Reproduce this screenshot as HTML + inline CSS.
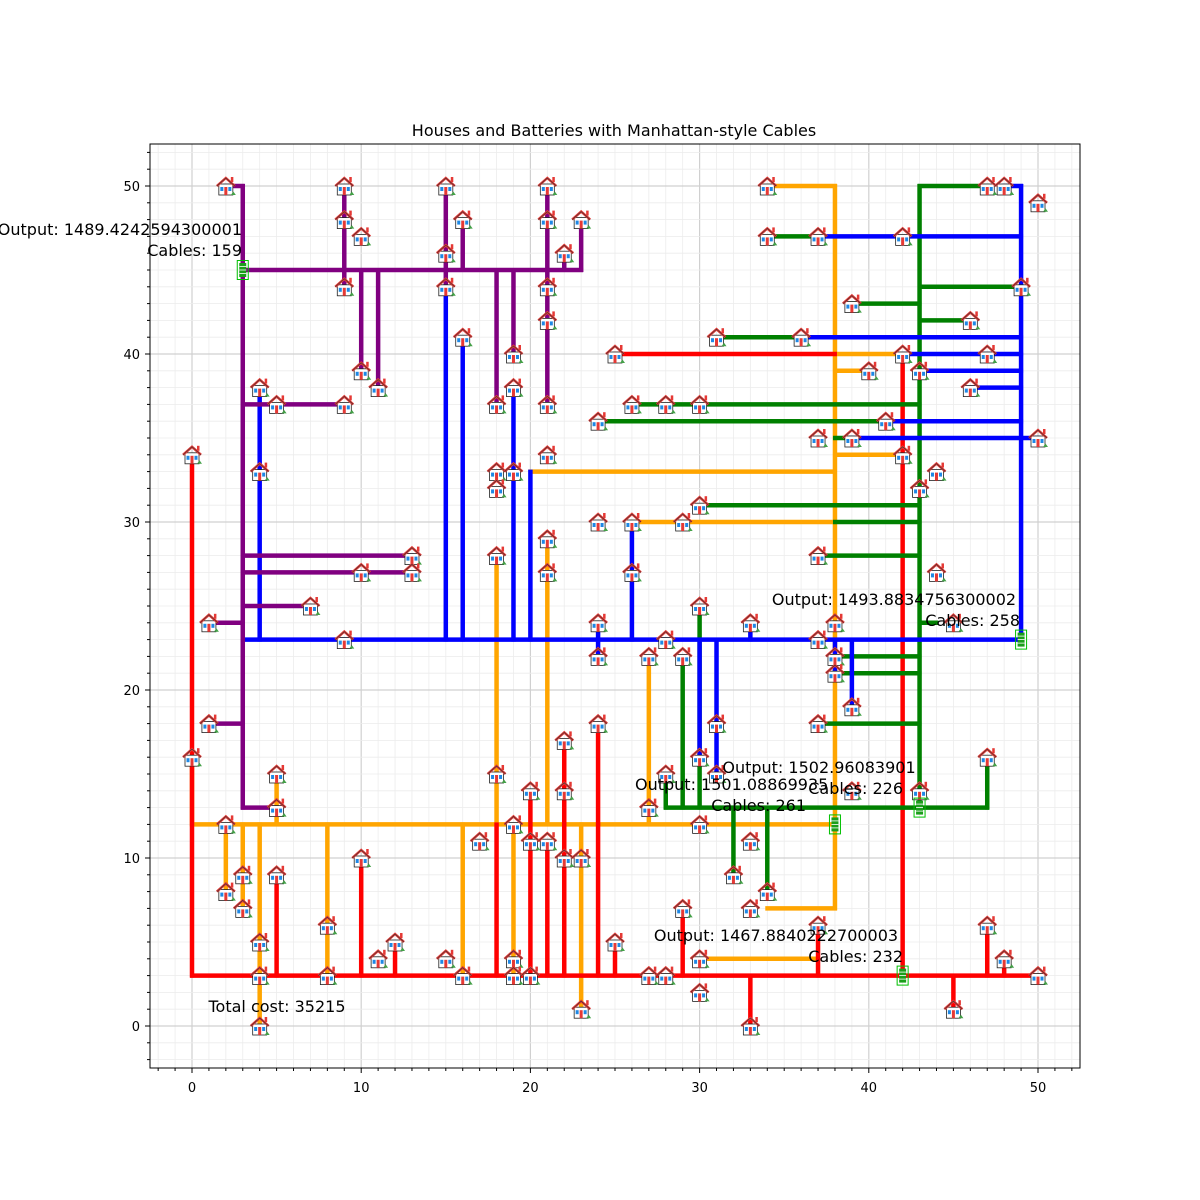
<!DOCTYPE html>
<html><head><meta charset="utf-8"><style>
html,body{margin:0;padding:0;background:#fff;}
svg{display:block;font-family:"DejaVu Sans","Liberation Sans",sans-serif;}
</style></head><body>
<svg id="s" width="1200" height="1200" xmlns="http://www.w3.org/2000/svg">
<rect width="1200" height="1200" fill="#fff"/>
<g id="grid"></g>
<g id="cables" stroke-linecap="butt" fill="none"></g>
<g id="icons"></g>
<rect x="150" y="144" width="930" height="924" fill="none" stroke="#000" stroke-width="1"/>
<g id="ticks" font-size="13" fill="#000"></g>
<text x="614" y="136" font-size="16" text-anchor="middle">Houses and Batteries with Manhattan-style Cables</text>
<g font-size="16" fill="#000">
<text x="242" y="235" text-anchor="end">Output: 1489.4242594300001</text>
<text x="242" y="256" text-anchor="end">Cables: 159</text>
<text x="894" y="605" text-anchor="middle">Output: 1493.8834756300002</text>
<text x="1020" y="626" text-anchor="end">Cables: 258</text>
<text x="635" y="790">Output: 1501.08869935</text>
<text x="806" y="811" text-anchor="end">Cables: 261</text>
<text x="819" y="773" text-anchor="middle">Output: 1502.96083901</text>
<text x="903" y="794" text-anchor="end">Cables: 226</text>
<text x="776" y="941" text-anchor="middle">Output: 1467.8840222700003</text>
<text x="903" y="962" text-anchor="end">Cables: 232</text>
<text x="277" y="1012" text-anchor="middle">Total cost: 35215</text>
</g>
</svg>
<script>
const NS="http://www.w3.org/2000/svg";
const X=x=>192+16.92*x, Y=y=>1026-16.8*y;
function el(p,t,a){const e=document.createElementNS(NS,t);for(const k in a)e.setAttribute(k,a[k]);p.appendChild(e);return e;}
const g=document.getElementById('grid'),tk=document.getElementById('ticks');
for(let i=-2;i<=52;i++){const x=X(i);if(x<150||x>1080)continue;const maj=i%10==0;
el(g,'line',{x1:x,y1:144,x2:x,y2:1068,stroke:maj?'#d0d0d0':'#ececec','stroke-width':maj?1.2:0.8});
el(tk,'line',{x1:x,y1:1068,x2:x,y2:1068+(maj?5:3),stroke:'#000','stroke-width':1});
if(maj)el(tk,'text',{x:x,y:1092,'text-anchor':'middle'}).textContent=i;}
for(let i=-2;i<=52;i++){const y=Y(i);if(y<144||y>1068)continue;const maj=i%10==0;
el(g,'line',{x1:150,y1:y,x2:1080,y2:y,stroke:maj?'#d0d0d0':'#ececec','stroke-width':maj?1.2:0.8});
el(tk,'line',{x1:150,y1:y,x2:150-(maj?5:3),y2:y,stroke:'#000','stroke-width':1});
if(maj)el(tk,'text',{x:140,y:y+5,'text-anchor':'end'}).textContent=i;}
const C=document.getElementById('cables');
function H(c,y,a,b){el(C,'line',{x1:X(a)-2,y1:Y(y),x2:X(b)+2,y2:Y(y),stroke:c,'stroke-width':4.5});}
function V(c,x,a,b){el(C,'line',{x1:X(x),y1:Y(a)+2,x2:X(x),y2:Y(b)-2,stroke:c,'stroke-width':4.5});}
const O='orange',R='#ff0000',B='#0000ff',G='#008000',P='purple';
V(O,38,7,50);H(O,50,34,38);H(O,12,0,38);V(O,0,12,16);
V(O,2,8,12);V(O,3,7,12);V(O,4,0,12);V(O,8,3,12);V(O,16,3,12);V(O,19,3,12);V(O,23,1,12);
V(O,5,12,15);V(O,18,12,28);V(O,21,12,29);V(O,27,12,22);
H(O,40,38,42);H(O,39,38,40);H(O,34,38,42);H(O,33,20,38);H(O,30,26,38);H(O,7,34,38);H(O,4,30,37);
H(R,3,0,50);V(R,0,3,34);V(R,42,3,40);H(R,40,25,38);
[[5,9],[10,10],[12,5],[18,12],[20,14],[22,17],[24,18],[25,5],[29,7],[37,6],[47,6],[48,4]].forEach(a=>V(R,a[0],3,a[1]));
V(R,33,0,3);V(R,45,1,3);V(R,21,3,11);
V(G,43,13,50);H(G,50,43,47);H(G,43,39,43);H(G,42,43,46);H(G,44,43,49);H(G,37,28,43);H(G,36,24,43);
H(G,35,38,39);H(G,31,30,43);H(G,30,38,43);H(G,28,37,43);H(G,24,43,44);H(G,22,38,43);H(G,21,38,43);H(G,18,37,43);
H(G,47,34,37);H(G,41,31,36);H(G,37,26,28);
H(G,13,28,47);V(G,47,13,16);V(G,29,13,22);V(G,30,13,25);V(G,28,13,15);V(G,32,9,13);V(G,34,8,13);
H(B,23,3,49);V(B,49,23,50);H(B,50,48,49);H(B,47,37,49);H(B,41,36,49);H(B,40,42,49);H(B,39,43,49);H(B,38,46,49);
H(B,36,41,49);H(B,35,39,50);
V(B,4,23,38);V(B,15,23,44);V(B,16,23,41);V(B,19,23,38);V(B,20,23,33);V(B,26,23,30);V(B,24,22,24);
V(B,30,16,23);V(B,31,15,23);V(B,33,23,24);V(B,39,19,23);V(B,38,21,23);
V(P,3,13,50);H(P,50,2,3);H(P,45,3,23);
V(P,9,45,50);V(P,15,45,50);V(P,16,45,48);V(P,21,45,50);V(P,22,45,46);V(P,23,45,48);
V(P,10,39,45);V(P,11,38,45);V(P,18,37,45);V(P,19,40,45);V(P,21,37,45);V(P,9,44,45);V(P,15,44,45);
H(P,37,3,9);H(P,28,3,13);H(P,27,3,13);H(P,25,3,7);H(P,24,1,3);H(P,18,1,3);H(P,13,3,5);
const I=document.getElementById('icons');
function house(x,y){const cx=X(x),cy=Y(y);const g=el(I,'g',{transform:`translate(${cx-10},${cy-10})`});
el(g,'rect',{x:15,y:1,width:2.5,height:5,fill:'#e53935'});
el(g,'rect',{x:3,y:8,width:14,height:11,fill:'#fff',stroke:'#222','stroke-width':0.8});
el(g,'polyline',{points:'1,10 10,2 19,10',fill:'none',stroke:'#e53935','stroke-width':2.5});
el(g,'polyline',{points:'1,10 10,2 19,10',fill:'none',stroke:'#333','stroke-width':0.6});
el(g,'rect',{x:4.5,y:11,width:3,height:4,fill:'#1e88e5'});el(g,'rect',{x:12.5,y:11,width:3,height:4,fill:'#1e88e5'});
el(g,'rect',{x:8.5,y:11,width:3,height:8,fill:'#e53935'});
el(g,'polygon',{points:'15,19 17.5,15.5 20,19',fill:'#43a047'});}
const hs=[[2,50],[9,50],[15,50],[21,50],[34,50],[47,50],[48,50],[50,49],[9,48],[16,48],[21,48],[23,48],[34,47],[37,47],[42,47],[10,47],[22,46],[15,46],
[9,44],[15,44],[21,44],[49,44],[39,43],[46,42],[21,42],[16,41],[31,41],[36,41],[19,40],[25,40],[42,40],[47,40],[10,39],[40,39],[43,39],[4,38],[11,38],[18,37],[19,38],[46,38],
[5,37],[9,37],[21,37],[26,37],[28,37],[30,37],[24,36],[41,36],[37,35],[39,35],[50,35],[0,34],[21,34],[42,34],[4,33],[18,33],[19,33],[44,33],[18,32],[43,32],[30,31],
[24,30],[26,30],[29,30],[21,29],[13,28],[18,28],[37,28],[10,27],[13,27],[21,27],[26,27],[44,27],[7,25],[30,25],[1,24],[24,24],[33,24],[38,24],[45,24],
[9,23],[28,23],[37,23],[24,22],[27,22],[29,22],[38,22],[38,21],[39,19],[1,18],[24,18],[31,18],[37,18],[22,17],[0,16],[30,16],[47,16],[5,15],[18,15],[28,15],[31,15],
[20,14],[22,14],[39,14],[43,14],[5,13],[27,13],[2,12],[19,12],[30,12],[17,11],[20,11],[21,11],[33,11],[10,10],[22,10],[23,10],[3,9],[5,9],[32,9],[2,8],[34,8],[3,7],[29,7],[33,7],
[8,6],[37,6],[47,6],[4,5],[12,5],[25,5],[19,4],[11,4],[15,4],[30,4],[48,4],[4,3],[8,3],[16,3],[19,3],[20,3],[27,3],[28,3],[50,3],[30,2],[23,1],[45,1],[4,0],[33,0]];
hs.forEach(h=>house(h[0],h[1]));
[[3,45],[49,23],[38,12],[43,13],[42,3]].forEach(b=>{const cx=X(b[0]),cy=Y(b[1]);
el(I,'rect',{x:cx-5.5,y:cy-9.5,width:11,height:19,fill:'none',stroke:'#00c000','stroke-width':1});
el(I,'rect',{x:cx-3.5,y:cy-7,width:7,height:14,fill:'#1a9e1a'});
for(let k=-1;k<=1;k++)el(I,'line',{x1:cx-3.5,y1:cy+k*3.5,x2:cx+3.5,y2:cy+k*3.5,stroke:'#fff','stroke-width':0.8});});
</script>
</body></html>
